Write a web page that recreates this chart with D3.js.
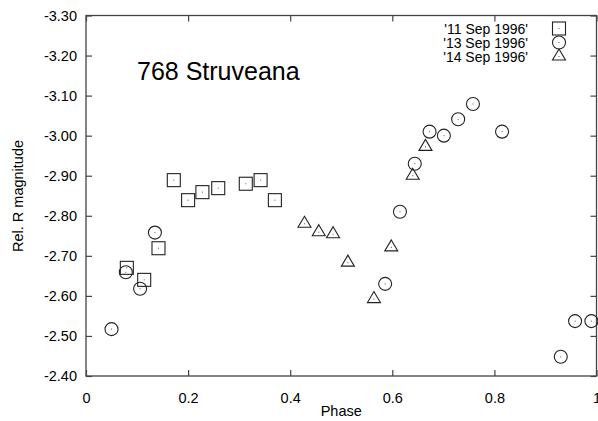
<!DOCTYPE html>
<html><head><meta charset="utf-8">
<script src="https://cdn.jsdelivr.net/npm/d3@7"></script>
<style>body{margin:0;background:#fff}svg{display:block}text{font-family:"Liberation Sans",Arial,sans-serif}</style>
</head><body>
<script>
const xTicks = [0, 0.2, 0.4, 0.6, 0.8, 1];
const xTickLabels = ["0", "0.2", "0.4", "0.6", "0.8", "1"];
const yTicks = [-3.30, -3.20, -3.10, -3.00, -2.90, -2.80, -2.70, -2.60, -2.50, -2.40];
const yTickLabels = ["-3.30", "-3.20", "-3.10", "-3.00", "-2.90", "-2.80", "-2.70", "-2.60", "-2.50", "-2.40"];
const seriesNames = ["'11 Sep 1996'", "'13 Sep 1996'", "'14 Sep 1996'"];
const sep11Phase = [0.080, 0.114, 0.142, 0.172, 0.200, 0.228, 0.259, 0.313, 0.342, 0.370];
const sep11Mag   = [-2.670, -2.640, -2.719, -2.889, -2.839, -2.859, -2.869, -2.880, -2.889, -2.839];
const sep13Phase = [0.050, 0.078, 0.106, 0.135, 0.586, 0.615, 0.644, 0.673, 0.701, 0.729, 0.758, 0.815, 0.930, 0.958, 0.990];
const sep13Mag   = [-2.517, -2.659, -2.618, -2.758, -2.630, -2.810, -2.930, -3.010, -3.000, -3.041, -3.079, -3.010, -2.448, -2.537, -2.537];
const sep14Phase = [0.428, 0.456, 0.484, 0.513, 0.564, 0.598, 0.640, 0.665];
const sep14Mag   = [-2.780, -2.759, -2.754, -2.683, -2.592, -2.721, -2.900, -2.972];

const W = 598, H = 421;
const x = d3.scaleLinear().domain([0, 1]).range([86, 596.5]);
const y = d3.scaleLinear().domain([-3.30, -2.40]).range([15.5, 376]);

const svg = d3.select("body").append("svg").attr("width", W).attr("height", H);
const axisColor = "#444";

// frame
svg.append("rect").attr("x", x(0)).attr("y", y(-3.30))
  .attr("width", x(1) - x(0)).attr("height", y(-2.40) - y(-3.30))
  .attr("fill", "none").attr("stroke", axisColor).attr("stroke-width", 1.3);

const fs = "14.5px";
const gL = svg.append("g").attr("transform", `translate(${x(0)},0)`)
  .call(d3.axisLeft(y).tickValues(yTicks).tickSize(-6).tickPadding(9).tickFormat((d, i) => yTickLabels[i]));
const gR = svg.append("g").attr("transform", `translate(${x(1)},0)`)
  .call(d3.axisRight(y).tickValues(yTicks).tickSize(-6).tickFormat(""));
const gB = svg.append("g").attr("transform", `translate(0,${y(-2.40)})`)
  .call(d3.axisBottom(x).tickValues(xTicks).tickSize(-6).tickPadding(17).tickFormat((d, i) => xTickLabels[i]));
const gT = svg.append("g").attr("transform", `translate(0,${y(-3.30)})`)
  .call(d3.axisTop(x).tickValues(xTicks).tickSize(-6).tickFormat(""));
[gL, gR, gB, gT].forEach(g => {
  g.select(".domain").remove();
  g.selectAll(".tick line").attr("stroke", axisColor).attr("stroke-width", 1.2);
  g.selectAll(".tick text").attr("fill", "#000").style("font-size", fs)
    .style("font-family", '"Liberation Sans",Arial,sans-serif');
});

svg.append("text").attr("x", (x(0) + x(1)) / 2).attr("y", 416).attr("text-anchor", "middle")
  .style("font-size", fs).text("Phase");
svg.append("text").attr("transform", "translate(23,196) rotate(-90)").attr("text-anchor", "middle")
  .style("font-size", fs).text("Rel. R magnitude");
svg.append("text").attr("x", 137).attr("y", 80).style("font-size", "25px").text("768 Struveana");

function drawMarker(g, kind, cx, cy) {
  const s = g.append("g").attr("transform", `translate(${cx},${cy})`);
  if (kind === 0) {
    s.append("rect").attr("x", -6.5).attr("y", -6.5).attr("width", 13).attr("height", 13)
      .attr("fill", "none").attr("stroke", "#222").attr("stroke-width", 1.1);
  } else if (kind === 1) {
    s.append("circle").attr("r", 6.5).attr("fill", "none").attr("stroke", "#222").attr("stroke-width", 1.1);
  } else {
    s.append("path").attr("d", "M0,-7.5 L6.5,3.5 L-6.5,3.5 Z")
      .attr("fill", "none").attr("stroke", "#222").attr("stroke-width", 1.1);
  }
  s.append("rect").attr("x", -0.5).attr("y", -0.5).attr("width", 1).attr("height", 1).attr("fill", "#555");
}

const series = [
  { phase: sep11Phase, mag: sep11Mag },
  { phase: sep13Phase, mag: sep13Mag },
  { phase: sep14Phase, mag: sep14Mag }
];
const gPts = svg.append("g");
series.forEach((s, k) => {
  s.phase.forEach((p, i) => drawMarker(gPts, k, x(p), y(s.mag[i])));
});

const gLeg = svg.append("g");
seriesNames.forEach((n, k) => {
  const cy = 28.5 + k * 14;
  gLeg.append("text").attr("x", 528).attr("y", cy + 5).attr("text-anchor", "end")
    .style("font-size", "14px").text(n);
  drawMarker(gLeg, k, 559, cy);
});
</script>
</body></html>
